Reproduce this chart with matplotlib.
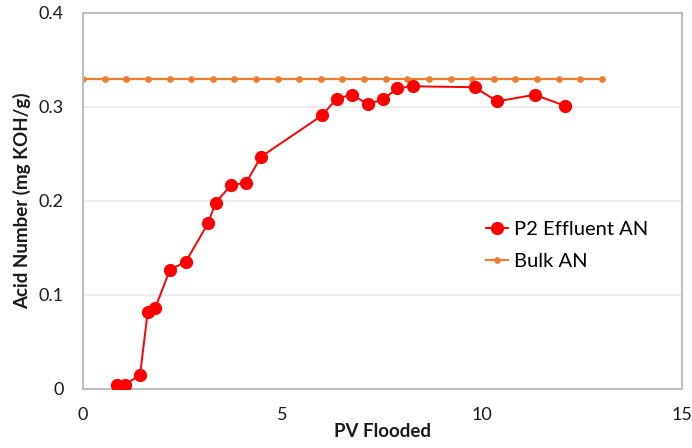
import matplotlib
matplotlib.use('Agg')
import matplotlib.pyplot as plt

plt.rcParams['font.family'] = ['Lato', 'DejaVu Sans']

# P2 effluent acid number vs. pore volumes flooded
pv_effluent = [0.86, 1.04, 1.43, 1.62, 1.81, 2.18, 2.57, 3.13, 3.32, 3.71, 4.08, 4.46,
               5.99, 6.36, 6.75, 7.13, 7.52, 7.88, 8.27, 9.81, 10.38, 11.32, 12.09]
an_effluent = [0.004, 0.004, 0.015, 0.082, 0.086, 0.127, 0.135, 0.176, 0.198, 0.217, 0.219, 0.247,
               0.291, 0.309, 0.313, 0.303, 0.308, 0.320, 0.322, 0.321, 0.306, 0.313, 0.301]

# bulk crude acid number (constant reference line)
pv_bulk = [0, 0.54, 1.08, 1.63, 2.17, 2.71, 3.25, 3.79, 4.33, 4.88, 5.42, 5.96, 6.5,
           7.04, 7.58, 8.13, 8.67, 9.21, 9.75, 10.29, 10.83, 11.38, 11.92, 12.46, 13.0]
an_bulk = [0.33] * len(pv_bulk)

x_ticks = [0, 5, 10, 15]
y_ticks = [0, 0.1, 0.2, 0.3, 0.4]
y_tick_labels = ['0', '0.1', '0.2', '0.3', '0.4']

fig = plt.figure(figsize=(6.92, 4.48), dpi=100)
ax = fig.add_axes([0.12, 0.132, 0.865, 0.839])

ax.plot(pv_effluent, an_effluent, color='#FF0000', marker='o', markersize=8.5,
        linewidth=1.4, label='P2 Effluent AN', zorder=3)
ax.plot(pv_bulk, an_bulk, color='#ED7D31', marker='o', markersize=3.8,
        linewidth=1.6, label='Bulk AN', zorder=2)

ax.set_xlim(0, 15)
ax.set_ylim(0, 0.4)
ax.set_xticks(x_ticks)
ax.set_yticks(y_ticks)
ax.set_yticklabels(y_tick_labels)
ax.tick_params(length=0, labelsize=13, colors='#1a1a1a')
ax.tick_params(axis='x', pad=13)
ax.tick_params(axis='y', pad=14)

ax.grid(axis='y', color='#EBEBEB', linewidth=1.2)
ax.set_axisbelow(True)
for s in ax.spines.values():
    s.set_color('#BFBFBF')
    s.set_linewidth(1.5)

ax.set_xlabel('PV Flooded', fontsize=13.5, fontweight='bold', color='#1a1a1a', labelpad=0)
ax.set_ylabel('Acid Number (mg KOH/g)', fontsize=13.5, fontweight='bold', color='#1a1a1a', labelpad=5)

ax.legend(loc='upper left', bbox_to_anchor=(0.66, 0.468), frameon=False, fontsize=14.5,
          handlelength=1.1, handletextpad=0.3, labelspacing=0.75, borderaxespad=0)

plt.savefig('out.png', dpi=100)
